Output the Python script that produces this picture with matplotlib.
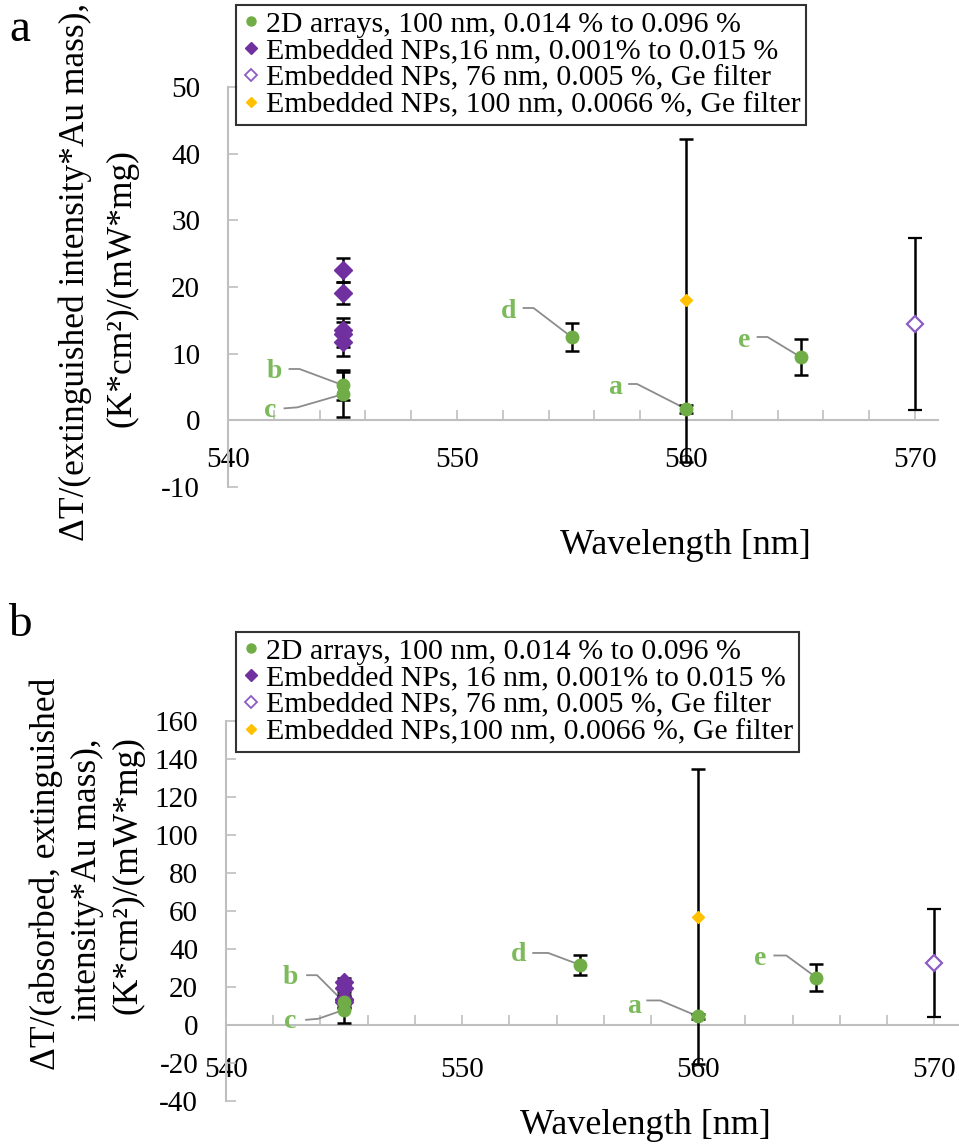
import numpy as np
import matplotlib
matplotlib.use("Agg")
import matplotlib.pyplot as plt
from matplotlib.lines import Line2D
from matplotlib.ticker import MultipleLocator

plt.rcParams['font.family'] = ['Liberation Serif', 'DejaVu Serif']
plt.rcParams['axes.unicode_minus'] = False

# ---- data (panel a: extinguished intensity) ----
green_x = [545, 545, 555, 560, 565]
green_lbl = ['b', 'c', 'd', 'a', 'e']
green_a = [5.3, 3.9, 12.5, 1.7, 9.5]
green_a_err = [2.2, 3.4, 2.1, 0.6, 2.7]
purple_x = [545, 545, 545, 545, 545]
purple_a = [22.6, 19.1, 13.6, 12.9, 11.7]
purple_a_err = [1.8, 1.7, 1.8, 1.9, 2.0]
open_x = [570]
open_a = [14.5]
open_a_err = [12.9]
orange_x = [560]
orange_a = [18.0]
orange_a_err = [24.2]

# ---- data (panel b: absorbed, extinguished intensity) ----
green_b = [12.0, 8.0, 31.6, 4.5, 25.0]
green_b_err = [3.0, 7.0, 5.3, 1.5, 7.0]
purple_b = [22.6, 19.3, 13.8, 13.0, 11.9]
purple_b_err = [2.0, 1.8, 1.9, 2.0, 2.2]
open_b = [32.6]
open_b_err = [28.2]
orange_b = [57.0]
orange_b_err = [77.7]

legend_a = ["2D arrays, 100 nm, 0.014 % to 0.096 %",
            "Embedded NPs,16 nm, 0.001% to 0.015 %",
            "Embedded NPs, 76 nm, 0.005 %, Ge filter",
            "Embedded NPs, 100 nm, 0.0066 %, Ge filter"]
legend_b = ["2D arrays, 100 nm, 0.014 % to 0.096 %",
            "Embedded NPs, 16 nm, 0.001% to 0.015 %",
            "Embedded NPs, 76 nm, 0.005 %, Ge filter",
            "Embedded NPs,100 nm, 0.0066 %, Ge filter"]

GREEN = '#70ad47'
PURPLE = '#7030a0'
LPURPLE = '#8c5cc4'
ORANGE = '#ffc000'
AXC = '#bfbfbf'
LBLC = '#7dba5c'

W, H = 959, 1146
fig = plt.figure(figsize=(W / 100, H / 100), dpi=100)


def px_axes(x0, x1, ytop, ybot):
    return fig.add_axes([x0 / W, 1 - ybot / H, (x1 - x0) / W, (ybot - ytop) / H])


# leader-line label offsets in pixels (dx, dy; dy positive = down), per green point
offs_a = {'b': ((-68, -14), (-53, -16), (-43, -16)),
          'c': ((-72, 16), (-58, 14), (-45, 13)),
          'd': ((-63, -26), (-48, -29), (-38, -29)),
          'a': ((-71, -22), (-57, -25), (-49, -25)),
          'e': ((-56, -17), (-43, -20), (-33, -20))}
offs_b = {'b': ((-54, -25), (-37, -27), (-27, -27)),
          'c': ((-54, 12), (-38, 10), (-26, 9)),
          'd': ((-62, -10), (-47, -12), (-32, -12)),
          'a': ((-64, -10), (-51, -16), (-38, -16)),
          'e': ((-56, -19), (-42, -22), (-30, -22))}


def draw_panel(ax, ylim, ystep, gy, gerr, py, perr, oy, oerr, ry, rerr, offs, xlab_pad):
    ax.set_xlim(540, 571)
    ax.set_ylim(*ylim)
    for s in ['top', 'right']:
        ax.spines[s].set_visible(False)
    ax.spines['bottom'].set_position(('data', 0))
    for s in ['left', 'bottom']:
        ax.spines[s].set_color(AXC)
        ax.spines[s].set_linewidth(1.5)
    ax.xaxis.set_major_locator(MultipleLocator(10))
    ax.xaxis.set_minor_locator(MultipleLocator(2))
    ax.yaxis.set_major_locator(MultipleLocator(ystep))
    ax.tick_params(axis='both', which='both', direction='in', color=AXC, width=1.2, length=7)
    ax.tick_params(axis='x', which='major', labelsize=21, pad=xlab_pad)
    ax.tick_params(axis='y', labelsize=21, pad=20)

    ek = dict(ecolor='black', elinewidth=1.8, capsize=5, capthick=1.8, linestyle='none', zorder=3)
    ax.errorbar(orange_x, ry, yerr=rerr, marker='D', ms=6, mfc=ORANGE, mec=ORANGE, **ek)
    ax.errorbar(open_x, oy, yerr=oerr, marker='D', ms=8, mfc='white', mec=LPURPLE, mew=1.6, **ek)
    ax.errorbar(purple_x, py, yerr=perr, marker='D', ms=9, mfc=PURPLE, mec=PURPLE, **ek)
    ax.errorbar(green_x, gy, yerr=gerr, marker='o', ms=9, mfc=GREEN, mec=GREEN, **ek)

    # green letter labels with grey leader lines
    for x, y, lab in zip(green_x, gy, green_lbl):
        t, s0, c0 = offs[lab]
        p = ax.transData.transform((x, y))
        verts = np.array([[p[0] + s0[0], p[1] - s0[1]],
                          [p[0] + c0[0], p[1] - c0[1]],
                          [p[0], p[1]]])
        dv = ax.transData.inverted().transform(verts)
        ax.plot(dv[:, 0], dv[:, 1], color='#8c8c8c', lw=1.3, zorder=2)
        tp = ax.transData.inverted().transform((p[0] + t[0], p[1] - t[1]))
        ax.text(tp[0], tp[1], lab, color=LBLC, fontsize=20, fontweight='bold',
                ha='center', va='center')


def legend_handles():
    return [Line2D([], [], ls='none', marker='o', ms=6.5, mfc=GREEN, mec=GREEN),
            Line2D([], [], ls='none', marker='D', ms=6, mfc=PURPLE, mec=PURPLE),
            Line2D([], [], ls='none', marker='D', ms=6, mfc='white', mec=LPURPLE, mew=1.3),
            Line2D([], [], ls='none', marker='D', ms=5, mfc=ORANGE, mec=ORANGE)]


def add_legend(labels, ytop):
    lg = fig.legend(legend_handles(), labels, loc='upper left',
                    bbox_to_anchor=(236 / W, 1 - ytop / H), fontsize=21.5, frameon=True,
                    fancybox=False, edgecolor='black', handlelength=0.6, handletextpad=0.2,
                    labelspacing=0.0, borderpad=0.2, borderaxespad=0)
    lg.get_frame().set_linewidth(1.5)
    return lg


# ---- panel a ----
ax1 = px_axes(228, 938, 87, 487)
draw_panel(ax1, (-10, 50), 10, green_a, green_a_err, purple_a, purple_a_err,
           open_a, open_a_err, orange_a, orange_a_err, offs_a, 19)
add_legend(legend_a, 5)
fig.text(560 / W, 1 - 545 / H, "Wavelength [nm]", fontsize=26, ha='left', va='center')
fig.text(75 / W, 1 - 272 / H, "ΔT/(extinguished intensity*Au mass),", fontsize=25.5,
         rotation=90, ha='center', va='center')
fig.text(122 / W, 1 - 288 / H, "(K*cm²)/(mW*mg)", fontsize=25.5,
         rotation=90, ha='center', va='center')
fig.text(20 / W, 1 - 30 / H, "a", fontsize=34, ha='center', va='center')

# ---- panel b ----
ax2 = px_axes(226, 958, 721, 1101)
draw_panel(ax2, (-40, 160), 20, green_b, green_b_err, purple_b, purple_b_err,
           open_b, open_b_err, orange_b, orange_b_err, offs_b, 23)
add_legend(legend_b, 632)
fig.text(520 / W, 1 - 1125 / H, "Wavelength [nm]", fontsize=26, ha='left', va='center')
fig.text(46 / W, 1 - 874 / H, "ΔT/(absorbed, extinguished", fontsize=25.5,
         rotation=90, ha='center', va='center')
fig.text(87 / W, 1 - 880 / H, "intensity*Au mass),", fontsize=25.5,
         rotation=90, ha='center', va='center')
fig.text(128 / W, 1 - 875 / H, "(K*cm²)/(mW*mg)", fontsize=25.5,
         rotation=90, ha='center', va='center')
fig.text(20 / W, 1 - 625 / H, "b", fontsize=34, ha='center', va='center')

fig.savefig("out.png", dpi=100)
